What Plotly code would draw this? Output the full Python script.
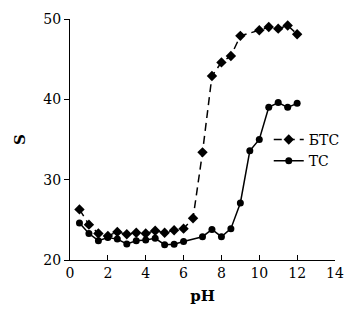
import plotly.graph_objects as go

ph_btc = [0.5, 1, 1.5, 2, 2.5, 3, 3.5, 4, 4.5, 5, 5.5, 6, 6.5, 7, 7.5, 8, 8.5, 9, 10, 10.5, 11, 11.5, 12]
s_btc = [26.3, 24.4, 23.3, 23.0, 23.5, 23.2, 23.4, 23.3, 23.65, 23.4, 23.7, 23.9, 25.2, 33.4, 42.9, 44.6, 45.4, 47.9, 48.6, 49.0, 48.8, 49.2, 48.1]

ph_tc = [0.5, 1, 1.5, 2, 2.5, 3, 3.5, 4, 4.5, 5, 5.5, 6, 7, 7.5, 8, 8.5, 9, 9.5, 10, 10.5, 11, 11.5, 12]
s_tc = [24.6, 23.3, 22.4, 22.8, 22.6, 22.0, 22.4, 22.5, 22.7, 21.9, 21.95, 22.3, 22.9, 23.8, 22.9, 23.9, 27.1, 33.6, 35.0, 39.0, 39.6, 39.0, 39.5]

font = "DejaVu Serif"

fig = go.Figure()
fig.add_trace(go.Scatter(x=ph_btc, y=s_btc, name="БТС", mode="lines+markers",
                         line=dict(color="black", width=1.5, dash="8px,5px"),
                         marker=dict(symbol="diamond", size=8, color="black")))
fig.add_trace(go.Scatter(x=ph_tc, y=s_tc, name="ТС", mode="lines+markers",
                         line=dict(color="black", width=1.5),
                         marker=dict(symbol="circle", size=7, color="black")))

fig.update_layout(
    width=345, height=320,
    margin=dict(l=70, r=10, t=19, b=60, autoexpand=False),
    paper_bgcolor="white", plot_bgcolor="white",
    font=dict(family=font, size=14, color="black"),
    showlegend=True,
    legend=dict(x=0.75, y=0.565, xanchor="left", yanchor="top",
                bgcolor="rgba(0,0,0,0)", font=dict(size=14, family=font),
                tracegroupgap=0, itemwidth=30),
    xaxis=dict(range=[0, 14], tickvals=[0, 2, 4, 6, 8, 10, 12, 14],
               showline=True, linecolor="black", linewidth=1,
               ticks="inside", ticklen=5, tickcolor="black",
               showgrid=False, zeroline=False,
               title=dict(text="<b>pH</b>", standoff=10, font=dict(size=15))),
    yaxis=dict(range=[20, 50], tickvals=[20, 30, 40, 50],
               showline=True, linecolor="black", linewidth=1,
               ticks="outside", ticklen=5, tickcolor="black",
               showgrid=False, zeroline=False,
               title=dict(text="<b>S</b>", standoff=14, font=dict(size=15))),
)

fig.write_html("out.html")
